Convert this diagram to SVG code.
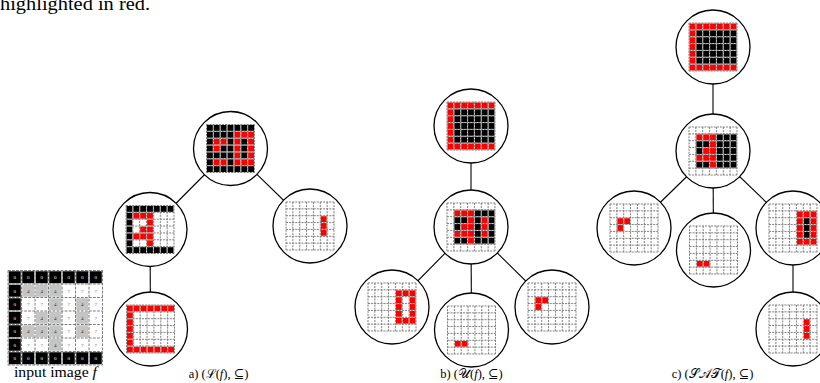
<svg xmlns="http://www.w3.org/2000/svg" xmlns:xlink="http://www.w3.org/1999/xlink" width="820" height="383" viewBox="0 0 820 383">
<style>
text{font-family:"Liberation Serif","DejaVu Serif",serif;fill:#000}
.cap{font-size:12.5px}
.k{fill:#000}.r{fill:#f00}.g{fill:#c4c4c4}
.gw{fill:none;stroke:#fff;stroke-width:.14}
.gd{fill:none;stroke:#7a7a7a;stroke-width:.14;stroke-dasharray:.3 .15}
.gwI{fill:none;stroke:#fff;stroke-width:.11}
.gdI{fill:none;stroke:#7a7a7a;stroke-width:.075;stroke-dasharray:.2 .1}
.node circle{fill:#fff;stroke:#000;stroke-width:1.3}
.edges line{stroke:#000;stroke-width:1.1}
.d{font-size:5px;text-anchor:middle;font-family:"DejaVu Sans",sans-serif}
.d0{fill:#fff}.d4{fill:#333}.d7{fill:#666}
</style>
<defs>
<path id="gl" d="M0 0V7M1 0V7M2 0V7M3 0V7M4 0V7M5 0V7M6 0V7M7 0V7M0 0H7M0 1H7M0 2H7M0 3H7M0 4H7M0 5H7M0 6H7M0 7H7"/>
<path id="ALL" d="M0 0h7v7h-7z"/>
<path id="IN" d="M1 1h6v5h-6z"/>
<path id="Z" d="M0 0h7v1h-7zM0 6h7v1h-7zM0 1h1v5h-1z"/>
<path id="FL" d="M1 1h3v1h-3zM3 2h1v1h-1zM2 3h2v1h-2zM1 4h3v1h-3zM3 5h1v1h-1z"/>
<path id="C5" d="M5 2h1v3h-1z"/>
<path id="R" d="M4 1h3v1h-3zM4 2h1v3h-1zM6 2h1v3h-1zM4 5h3v1h-3z"/>
<path id="H1" d="M1 2h2v1h-2zM1 3h1v1h-1z"/>
<path id="H2" d="M1 5h2v1h-2z"/>
<path id="S" d="M4 1h3v1h-3zM4 2h1v3h-1zM6 2h1v3h-1zM4 5h3v1h-3zM1 2h2v1h-2zM1 3h1v1h-1zM1 5h2v1h-2z"/>
<g id="grid"><use href="#gl" class="gw"/><use href="#gl" class="gd"/></g>
<g id="gridI"><use href="#gl" class="gwI"/><use href="#gl" class="gdI"/></g>
</defs>

<text x="0" y="10" font-size="19" textLength="150" lengthAdjust="spacingAndGlyphs">highlighted in red.</text>

<g id="input-image">
<g transform="translate(8 270.5) scale(13.5)">
<use href="#Z" class="k"/>
<use href="#FL" class="g"/>
<use href="#C5" class="g"/>
<use href="#gridI"/>
</g>
<g class="d">
<text class="d0" x="14.75" y="279.05">0</text><text class="d0" x="28.25" y="279.05">0</text><text class="d0" x="41.75" y="279.05">0</text><text class="d0" x="55.25" y="279.05">0</text><text class="d0" x="68.75" y="279.05">0</text><text class="d0" x="82.25" y="279.05">0</text><text class="d0" x="95.75" y="279.05">0</text>
<text class="d0" x="14.75" y="292.55">0</text><text class="d4" x="28.25" y="292.55">4</text><text class="d4" x="41.75" y="292.55">4</text><text class="d4" x="55.25" y="292.55">4</text><text class="d7" x="68.75" y="292.55">7</text><text class="d7" x="82.25" y="292.55">7</text><text class="d7" x="95.75" y="292.55">7</text>
<text class="d0" x="14.75" y="306.05">0</text><text class="d7" x="28.25" y="306.05">7</text><text class="d7" x="41.75" y="306.05">7</text><text class="d4" x="55.25" y="306.05">4</text><text class="d7" x="68.75" y="306.05">7</text><text class="d4" x="82.25" y="306.05">4</text><text class="d7" x="95.75" y="306.05">7</text>
<text class="d0" x="14.75" y="319.55">0</text><text class="d7" x="28.25" y="319.55">7</text><text class="d4" x="41.75" y="319.55">4</text><text class="d4" x="55.25" y="319.55">4</text><text class="d7" x="68.75" y="319.55">7</text><text class="d4" x="82.25" y="319.55">4</text><text class="d7" x="95.75" y="319.55">7</text>
<text class="d0" x="14.75" y="333.05">0</text><text class="d4" x="28.25" y="333.05">4</text><text class="d4" x="41.75" y="333.05">4</text><text class="d4" x="55.25" y="333.05">4</text><text class="d7" x="68.75" y="333.05">7</text><text class="d4" x="82.25" y="333.05">4</text><text class="d7" x="95.75" y="333.05">7</text>
<text class="d0" x="14.75" y="346.55">0</text><text class="d7" x="28.25" y="346.55">7</text><text class="d7" x="41.75" y="346.55">7</text><text class="d4" x="55.25" y="346.55">4</text><text class="d7" x="68.75" y="346.55">7</text><text class="d7" x="82.25" y="346.55">7</text><text class="d7" x="95.75" y="346.55">7</text>
<text class="d0" x="14.75" y="360.05">0</text><text class="d0" x="28.25" y="360.05">0</text><text class="d0" x="41.75" y="360.05">0</text><text class="d0" x="55.25" y="360.05">0</text><text class="d0" x="68.75" y="360.05">0</text><text class="d0" x="82.25" y="360.05">0</text><text class="d0" x="95.75" y="360.05">0</text>
</g>
<text x="55.5" y="377" text-anchor="middle" style="font-size:14.5px" textLength="83" lengthAdjust="spacingAndGlyphs">input image <tspan font-style="italic">f</tspan></text>
</g>

<g id="edges" class="edges">
<line x1="230.5" y1="148.5" x2="150" y2="229.5"/>
<line x1="230.5" y1="148.5" x2="310" y2="226"/>
<line x1="150" y1="229.5" x2="150.5" y2="329"/>
<line x1="471" y1="126" x2="471" y2="227"/>
<line x1="471" y1="227" x2="392" y2="307"/>
<line x1="471" y1="227" x2="471.5" y2="330"/>
<line x1="471" y1="227" x2="552" y2="307"/>
<line x1="713" y1="47" x2="713" y2="151"/>
<line x1="713" y1="151" x2="634" y2="228"/>
<line x1="713" y1="151" x2="713.5" y2="250"/>
<line x1="713" y1="151" x2="793" y2="228"/>
<line x1="793" y1="228" x2="793" y2="329"/>
</g>

<g id="a-root" class="node"><circle cx="230.5" cy="148.5" r="37"/><g transform="translate(206.5 124.5) scale(6.857)"><use href="#ALL" class="k"/><use href="#S" class="r"/><use href="#grid"/></g></g>
<g id="a-left" class="node"><circle cx="150" cy="229.5" r="37"/><g transform="translate(126 205.5) scale(6.857)"><use href="#Z" class="k"/><use href="#FL" class="r"/><use href="#grid"/></g></g>
<g id="a-left-child" class="node"><circle cx="150.5" cy="329" r="37"/><g transform="translate(126.5 305) scale(6.857)"><use href="#Z" class="r"/><use href="#grid"/></g></g>
<g id="a-right" class="node"><circle cx="310" cy="226" r="37"/><g transform="translate(286 202) scale(6.857)"><use href="#C5" class="r"/><use href="#grid"/></g></g>

<g id="b-root" class="node"><circle cx="471" cy="126" r="37"/><g transform="translate(447 102) scale(6.857)"><use href="#ALL" class="k"/><use href="#Z" class="r"/><use href="#grid"/></g></g>
<g id="b-mid" class="node"><circle cx="471" cy="227" r="37"/><g transform="translate(447 203) scale(6.857)"><use href="#IN" class="k"/><use href="#FL" class="r"/><use href="#C5" class="r"/><use href="#grid"/></g></g>
<g id="b-left" class="node"><circle cx="392" cy="307" r="37"/><g transform="translate(368 283) scale(6.857)"><use href="#R" class="r"/><use href="#grid"/></g></g>
<g id="b-middle" class="node"><circle cx="471.5" cy="330" r="37"/><g transform="translate(447.5 306) scale(6.857)"><use href="#H2" class="r"/><use href="#grid"/></g></g>
<g id="b-right" class="node"><circle cx="552" cy="307" r="37"/><g transform="translate(528 283) scale(6.857)"><use href="#H1" class="r"/><use href="#grid"/></g></g>

<g id="c-root" class="node"><circle cx="713" cy="47" r="37"/><g transform="translate(689 23) scale(6.857)"><use href="#ALL" class="k"/><use href="#Z" class="r"/><use href="#grid"/></g></g>
<g id="c-mid" class="node"><circle cx="713" cy="151" r="37"/><g transform="translate(689 127) scale(6.857)"><use href="#IN" class="k"/><use href="#FL" class="r"/><use href="#grid"/></g></g>
<g id="c-left" class="node"><circle cx="634" cy="228" r="37"/><g transform="translate(610 204) scale(6.857)"><use href="#H1" class="r"/><use href="#grid"/></g></g>
<g id="c-middle" class="node"><circle cx="713.5" cy="250" r="37"/><g transform="translate(689.5 226) scale(6.857)"><use href="#H2" class="r"/><use href="#grid"/></g></g>
<g id="c-right" class="node"><circle cx="793" cy="228" r="37"/><g transform="translate(769 204) scale(6.857)"><use href="#C5" class="k"/><use href="#R" class="r"/><use href="#grid"/></g></g>
<g id="c-right-child" class="node"><circle cx="793" cy="329" r="37"/><g transform="translate(769 305) scale(6.857)"><use href="#C5" class="r"/><use href="#grid"/></g></g>

<text class="cap" x="218.5" y="378" text-anchor="middle">a) (ℒ(<tspan font-style="italic">f</tspan>), ⊆)</text>
<text class="cap" x="471.5" y="378" text-anchor="middle">b) (𝒰(<tspan font-style="italic">f</tspan>), ⊆)</text>
<text class="cap" x="712.5" y="378" text-anchor="middle">c) (𝒮𝒜𝒯(<tspan font-style="italic">f</tspan>), ⊆)</text>
</svg>
